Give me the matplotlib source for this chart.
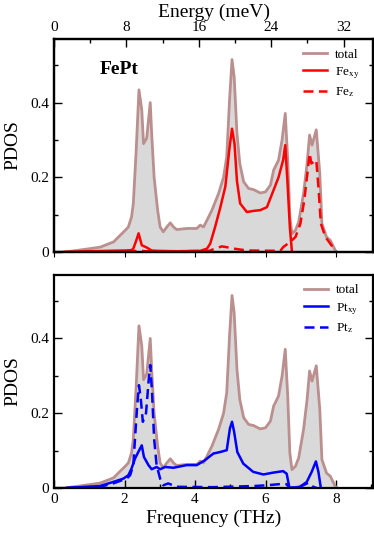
import numpy as np
import matplotlib.pyplot as plt
from matplotlib.ticker import MultipleLocator

plt.rcParams['font.family'] = ['Liberation Serif', 'DejaVu Serif']
plt.rcParams['mathtext.fontset'] = 'stix'

# total PDOS (same in both panels)
freq_total = [0.0, 0.31, 0.64, 1.02, 1.31, 1.5, 1.69, 1.88, 2.02, 2.11, 2.2, 2.25, 2.33, 2.41,
              2.49, 2.54, 2.63, 2.73, 2.77, 2.84, 2.94, 3.01, 3.1, 3.2, 3.3, 3.39, 3.48, 3.77,
              4.05, 4.15, 4.24, 4.34, 4.48, 4.67, 4.81, 4.9, 4.98, 5.05, 5.11, 5.19, 5.27,
              5.38, 5.52, 5.66, 5.85, 6.0, 6.14, 6.23, 6.37, 6.47, 6.56, 6.63, 6.69, 6.75,
              6.85, 6.94, 7.08, 7.18, 7.25, 7.32, 7.44, 7.54, 7.6, 7.73, 7.84, 7.98, 8.03]
pdos_total = [0.0, 0.0, 0.004, 0.009, 0.013, 0.02, 0.027, 0.045, 0.058, 0.067, 0.094, 0.13,
              0.27, 0.434, 0.38, 0.29, 0.305, 0.40, 0.318, 0.20, 0.112, 0.067, 0.054, 0.067,
              0.078, 0.067, 0.06, 0.063, 0.063, 0.072, 0.067, 0.085, 0.112, 0.157, 0.20,
              0.255, 0.407, 0.515, 0.47, 0.318, 0.237, 0.188, 0.17, 0.167, 0.158, 0.161,
              0.179, 0.219, 0.246, 0.30, 0.371, 0.246, 0.094, 0.049, 0.058, 0.08, 0.157,
              0.237, 0.313, 0.286, 0.327, 0.21, 0.076, 0.04, 0.031, 0.004, 0.0]

# Fe
freq_fexy = [0.3, 1.0, 2.0, 2.2, 2.25, 2.33, 2.4, 2.49, 2.63, 2.77, 2.92, 3.5, 4.15, 4.34,
             4.43, 4.57, 4.72, 4.86, 4.98, 5.05, 5.12, 5.19, 5.28, 5.47, 5.66, 5.85, 6.04,
             6.23, 6.37, 6.5, 6.56, 6.63, 6.69, 6.75]
fe_xy = [0.0, 0.002, 0.004, 0.005, 0.009, 0.03, 0.05, 0.018, 0.012, 0.004, 0.003, 0.002,
         0.003, 0.009, 0.022, 0.067, 0.12, 0.175, 0.28, 0.33, 0.29, 0.19, 0.13, 0.107,
         0.11, 0.112, 0.12, 0.166, 0.2, 0.246, 0.286, 0.175, 0.067, 0.0]
freq_fez = [0.3, 2.2, 2.4, 2.6, 3.5, 4.4, 4.6, 4.76, 4.95, 5.1, 5.47, 6.42, 6.5, 6.7, 6.85,
            6.99, 7.1, 7.2, 7.25, 7.3, 7.44, 7.5, 7.57, 7.7, 7.84, 7.98]
fe_z = [0.0, 0.001, 0.004, 0.002, 0.002, 0.003, 0.01, 0.015, 0.012, 0.009, 0.004, 0.003,
        0.013, 0.027, 0.04, 0.076, 0.139, 0.22, 0.264, 0.237, 0.246, 0.175, 0.076, 0.04,
        0.022, 0.003]

# Pt
freq_ptxy = [0.36, 1.3, 1.68, 1.97, 2.11, 2.2, 2.3, 2.39, 2.49, 2.55, 2.68, 2.77, 2.91,
             3.01, 3.15, 3.39, 3.76, 4.05, 4.28, 4.52, 4.71, 4.9, 4.99, 5.05, 5.11, 5.2,
             5.37, 5.65, 5.94, 6.22, 6.5, 6.6, 6.68, 6.98, 7.17, 7.31, 7.43, 7.5, 7.57]
pt_xy = [0.0, 0.005, 0.016, 0.025, 0.034, 0.052, 0.079, 0.096, 0.114, 0.083, 0.061, 0.05,
         0.056, 0.05, 0.056, 0.054, 0.061, 0.061, 0.074, 0.092, 0.096, 0.101, 0.159, 0.177,
         0.15, 0.096, 0.065, 0.043, 0.036, 0.041, 0.045, 0.038, 0.0, 0.003, 0.016, 0.043,
         0.071, 0.043, 0.0]
freq_ptz = [0.36, 1.3, 1.68, 2.06, 2.16, 2.25, 2.31, 2.36, 2.41, 2.46, 2.52, 2.61, 2.69,
            2.73, 2.78, 2.84, 2.91, 3.01, 3.1, 3.24, 3.48, 4.5, 5.65, 6.03, 6.5, 6.6, 6.68,
            6.98, 7.22, 7.35, 7.45]
pt_z = [0.0, 0.003, 0.012, 0.025, 0.034, 0.061, 0.15, 0.22, 0.275, 0.24, 0.177, 0.2,
        0.293, 0.329, 0.257, 0.132, 0.061, 0.025, 0.007, 0.012, 0.003, 0.002, 0.005, 0.007,
        0.011, 0.01, 0.0, 0.003, 0.014, 0.003, 0.0]

energy_ticks = [0, 8, 16, 24, 32]

total_color = '#bc8f8f'
fill_color = '#d9d9d9'
dash = (0, (4, 2.2))
xmax = 9.05
mev_per_thz = 3.895

fig = plt.figure(figsize=(3.74, 5.35), dpi=100)
ax1 = fig.add_axes([0.1444, 0.529, 0.853, 0.398])
ax2 = fig.add_axes([0.1444, 0.088, 0.853, 0.398])

panels = [(ax1, 'red', freq_fexy, fe_xy, freq_fez, fe_z, 'Fe'),
          (ax2, 'blue', freq_ptxy, pt_xy, freq_ptz, pt_z, 'Pt')]

for ax, col, fx, yx, fz, yz, el in panels:
    ax.fill_between(freq_total, pdos_total, 0, color=fill_color, lw=0)
    ax.plot(freq_total, pdos_total, color=total_color, lw=2, label='total')
    ax.plot(fx, yx, color=col, lw=1.8, label=el + r'$_{\rm xy}$')
    ax.plot(fz, yz, color=col, lw=1.8, ls=dash, label=el + r'$_{\rm z}$')
    ax.set_xlim(0, xmax)
    ax.set_ylim(0, 0.57)
    ax.yaxis.set_minor_locator(MultipleLocator(0.1))
    ax.set_yticks([0, 0.2, 0.4], ['0', '0.2', '0.4'])
    ax.tick_params(axis='y', which='both', direction='in', left=True, right=True,
                   labelsize=11)
    ax.tick_params(axis='y', which='major', length=6, width=1)
    ax.tick_params(axis='y', which='minor', length=3, width=1)
    ax.set_ylabel('PDOS', fontsize=14, labelpad=6)
    for s in ax.spines.values():
        s.set_linewidth(1.6)
    ax.legend(loc='upper right', frameon=False, fontsize=9.5, handlelength=1.8,
              handletextpad=0.6, labelspacing=0.35, borderaxespad=0.3,
              bbox_to_anchor=(0.985, 1.0))

# top panel: no bottom ticks, energy axis on top
ax1.tick_params(axis='x', which='both', bottom=False, labelbottom=False)
top = ax1.twiny()
top.set_xlim(0, xmax * mev_per_thz)
top.set_xticks(energy_ticks)
top.xaxis.set_minor_locator(MultipleLocator(4))
top.tick_params(which='both', direction='in', labelsize=11, width=1)
top.tick_params(which='major', length=6)
top.tick_params(which='minor', length=3)
top.set_xlabel('Energy (meV)', fontsize=14, labelpad=3)
for s in top.spines.values():
    s.set_linewidth(1.6)
ax1.text(0.144, 0.855, 'FePt', transform=ax1.transAxes, fontsize=14,
         fontweight='bold', va='center', ha='left')

# bottom panel frequency axis
ax2.xaxis.set_major_locator(MultipleLocator(2))
ax2.xaxis.set_minor_locator(MultipleLocator(1))
ax2.tick_params(axis='x', which='both', direction='in', top=False, labelsize=11, width=1)
ax2.tick_params(axis='x', which='major', length=6)
ax2.tick_params(axis='x', which='minor', length=3)
ax2.set_xlabel('Frequency (THz)', fontsize=14, labelpad=3)

fig.savefig('out.png', dpi=100)
